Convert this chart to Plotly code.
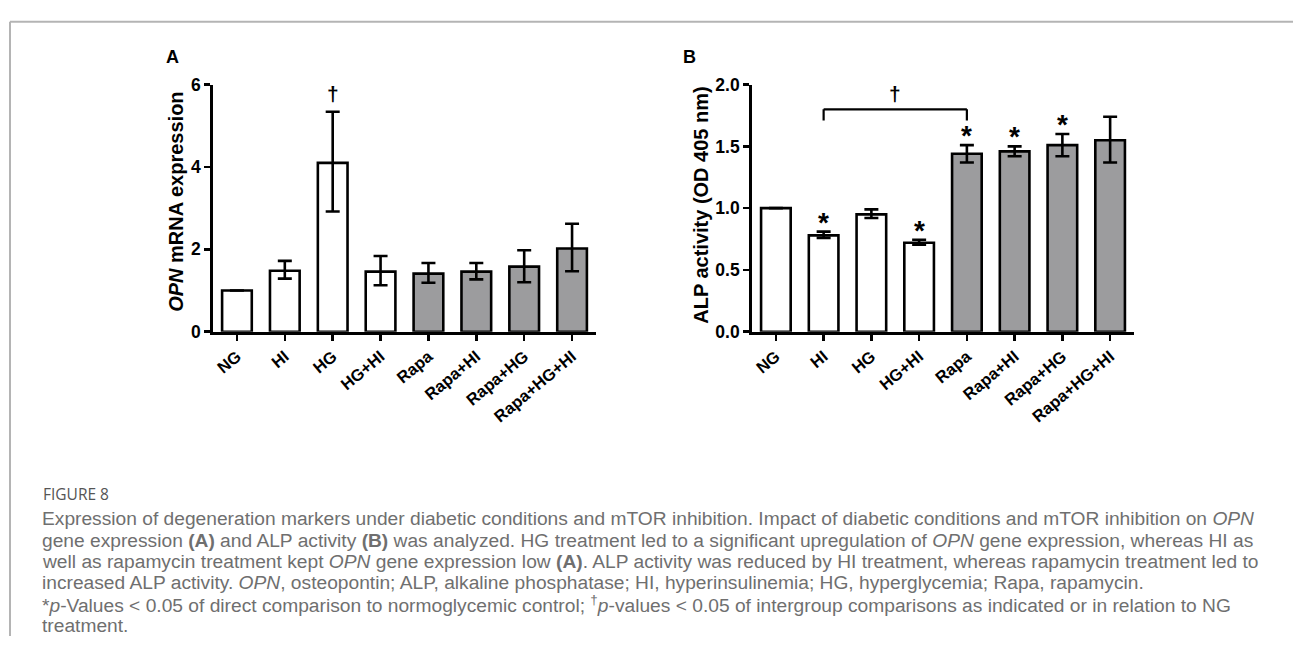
import plotly.graph_objects as go

# ---------------- data ----------------
categories = ["NG", "HI", "HG", "HG+HI", "Rapa", "Rapa+HI", "Rapa+HG", "Rapa+HG+HI"]
rapa_group = [False, False, False, False, True, True, True, True]

opn_mean = [1.00, 1.48, 4.10, 1.46, 1.41, 1.46, 1.58, 2.02]
opn_upper = [1.00, 1.72, 5.34, 1.84, 1.67, 1.67, 1.98, 2.62]
opn_lower = [1.00, 1.29, 2.92, 1.13, 1.19, 1.27, 1.20, 1.47]

alp_mean = [1.00, 0.78, 0.95, 0.72, 1.44, 1.46, 1.51, 1.55]
alp_upper = [1.00, 0.81, 0.99, 0.745, 1.51, 1.50, 1.60, 1.74]
alp_lower = [1.00, 0.76, 0.92, 0.705, 1.37, 1.42, 1.42, 1.37]

opn_dagger = ["HG"]
alp_star = ["HI", "HG+HI", "Rapa", "Rapa+HI", "Rapa+HG"]
alp_bracket = ("HI", "Rapa")
alp_bracket_y = (1.71, 1.80)

opn_ticks = [0, 2, 4, 6]
alp_ticks = [0.0, 0.5, 1.0, 1.5, 2.0]

caption_lines = [
    "Expression of degeneration markers under diabetic conditions and mTOR inhibition. Impact of diabetic conditions and mTOR inhibition on <i>OPN</i>",
    "gene expression <b>(A)</b> and ALP activity <b>(B)</b> was analyzed. HG treatment led to a significant upregulation of <i>OPN</i> gene expression, whereas HI as",
    "well as rapamycin treatment kept <i>OPN</i> gene expression low <b>(A)</b>. ALP activity was reduced by HI treatment, whereas rapamycin treatment led to",
    "increased ALP activity. <i>OPN</i>, osteopontin; ALP, alkaline phosphatase; HI, hyperinsulinemia; HG, hyperglycemia; Rapa, rapamycin.",
    "*<i>p</i>-Values &lt; 0.05 of direct comparison to normoglycemic control; <sup>†</sup><i>p</i>-values &lt; 0.05 of intergroup comparisons as indicated or in relation to NG",
    "treatment.",
]

# ---------------- layout constants ----------------
W, H = 1293, 646
FONT = "Liberation Sans, Arial, Helvetica, sans-serif"
CAP_FONT = "Liberation Sans, Arial, sans-serif"
FIG_FONT = "Open Sans, Noto Sans, sans-serif"


def px_x(p):
    return p / W


def px_y(p):
    return 1 - p / H


ydom = [px_y(332), px_y(77)]
xdomA = [px_x(213), px_x(596)]
xdomB = [px_x(752), px_x(1134)]

colors = ["#9c9c9e" if r else "white" for r in rapa_group]

fig = go.Figure()


def add_panel(mean, upper, lower, xa, ya):
    fig.add_trace(go.Bar(
        x=categories, y=mean,
        marker=dict(color=colors, line=dict(color="black", width=2.6)),
        width=0.62,
        error_y=dict(type="data", symmetric=False,
                     array=[u - m for u, m in zip(upper, mean)],
                     arrayminus=[m - l for m, l in zip(mean, lower)],
                     color="black", thickness=2.6, width=7),
        xaxis=xa, yaxis=ya, showlegend=False, hoverinfo="skip",
    ))


add_panel(opn_mean, opn_upper, opn_lower, "x", "y")
add_panel(alp_mean, alp_upper, alp_lower, "x2", "y2")

axis_common = dict(showline=True, linecolor="black", linewidth=2.8, ticks="outside",
                   ticklen=6, tickwidth=2.6, tickcolor="black", showgrid=False,
                   zeroline=False)
ytickfont = dict(family=FONT, size=17.5, color="black", weight="bold")
xtickfont = dict(family=FONT, size=16.5, color="black", weight="bold")

fig.update_layout(
    width=W, height=H, margin=dict(l=0, r=0, t=0, b=0),
    paper_bgcolor="white", plot_bgcolor="white", hovermode=False,
    xaxis=dict(domain=xdomA, anchor="y", tickangle=-40, type="category",
               range=[-0.5, 7.5], tickfont=xtickfont, **axis_common),
    yaxis=dict(domain=ydom, anchor="x", range=[0, 6], tickvals=opn_ticks,
               tickfont=ytickfont, **axis_common),
    xaxis2=dict(domain=xdomB, anchor="y2", tickangle=-40, type="category",
                range=[-0.5, 7.5], tickfont=xtickfont, **axis_common),
    yaxis2=dict(domain=ydom, anchor="x2", range=[0, 2], tickvals=alp_ticks,
                tickformat=".1f", tickfont=ytickfont, **axis_common),
)

ann = []
# significance markers
for c in opn_dagger:
    i = categories.index(c)
    ann.append(dict(x=c, y=opn_upper[i], xref="x", yref="y", text="<b>†</b>",
                    showarrow=False, xanchor="center", yanchor="bottom", yshift=5,
                    font=dict(family=FONT, size=21, color="black")))
for c in alp_star:
    i = categories.index(c)
    ann.append(dict(x=c, y=alp_upper[i], xref="x2", yref="y2", text="<b>*</b>",
                    showarrow=False, xanchor="center", yanchor="bottom", yshift=-8,
                    font=dict(family=FONT, size=28, color="black")))

# bracket (shapes on the category axis, positioned by category index)
i0, i1 = categories.index(alp_bracket[0]), categories.index(alp_bracket[1])
for (xa, ya, xb, yb) in [(i0, alp_bracket_y[0], i0, alp_bracket_y[1]),
                         (i0, alp_bracket_y[1], i1, alp_bracket_y[1]),
                         (i1, alp_bracket_y[1], i1, alp_bracket_y[0])]:
    fig.add_shape(type="line", xref="x2", yref="y2", x0=xa, y0=ya, x1=xb, y1=yb,
                  line=dict(color="black", width=2.2))
ann.append(dict(x=(i0 + i1) / 2, y=alp_bracket_y[1], xref="x2", yref="y2", text="<b>†</b>",
                showarrow=False, xanchor="center", yanchor="bottom", yshift=2,
                font=dict(family=FONT, size=21, color="black")))

# axis titles
ann.append(dict(x=px_x(176), y=px_y(198), xref="paper", yref="paper",
                text="<b><i>OPN</i> mRNA expression</b>", textangle=-90, showarrow=False,
                xanchor="center", yanchor="middle",
                font=dict(family=FONT, size=20, color="black")))
ann.append(dict(x=px_x(701), y=px_y(201), xref="paper", yref="paper",
                text="<b>ALP activity (OD 405 nm)</b>", textangle=-90, showarrow=False,
                xanchor="center", yanchor="middle",
                font=dict(family=FONT, size=20, color="black")))

# panel letters
ann.append(dict(x=px_x(172), y=px_y(49), xref="paper", yref="paper", text="<b>A</b>",
                showarrow=False, xanchor="center", yanchor="middle",
                font=dict(family=FONT, size=18, color="black")))
ann.append(dict(x=px_x(689), y=px_y(49), xref="paper", yref="paper", text="<b>B</b>",
                showarrow=False, xanchor="center", yanchor="middle",
                font=dict(family=FONT, size=18, color="black")))

# caption
ann.append(dict(x=px_x(42), y=px_y(499), xref="paper", yref="paper", text="FIGURE 8",
                showarrow=False, xanchor="left", yanchor="middle", borderpad=0,
                font=dict(family=FIG_FONT, size=15.5, color="#555555")))
line0, line_gap = 525, 22.1
for k, t in enumerate(caption_lines):
    ann.append(dict(x=px_x(41), y=px_y(line0 + k * line_gap), xref="paper", yref="paper",
                    text=t, align="left", showarrow=False, xanchor="left", yanchor="middle",
                    borderpad=0,
                    font=dict(family=CAP_FONT, size=19.2, color="#6f6f6f")))

fig.update_layout(annotations=ann)

# frame lines
fig.add_shape(type="line", xref="paper", yref="paper", x0=px_x(10), x1=1, y0=px_y(12), y1=px_y(12),
              line=dict(color="#b4b4b4", width=2))
fig.add_shape(type="line", xref="paper", yref="paper", x0=px_x(10), x1=px_x(10), y0=px_y(12), y1=px_y(646),
              line=dict(color="#b4b4b4", width=2))

fig.write_html("out.html", config={"displayModeBar": False, "staticPlot": True},
               post_script="document.body.style.margin='0';document.body.style.overflow='hidden';")
